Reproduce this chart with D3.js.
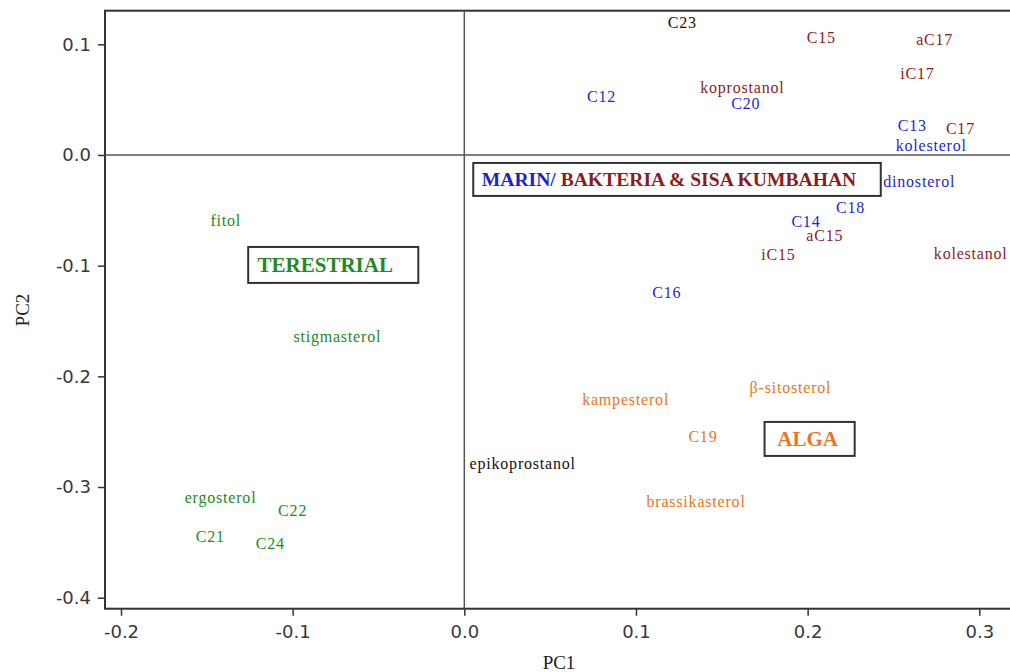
<!DOCTYPE html>
<html>
  <head>
    <meta charset="utf-8">
    <title>PCA</title>
    <style>
      body { margin: 0; background: #fff; }
      svg { display: block; }
      .tick text { font-family: "DejaVu Sans", sans-serif; font-size: 18px; fill: #383838; }
      .tick line { stroke: #333; stroke-width: 1.5; }
      .lbl { font-family: "Liberation Serif", "Times New Roman", serif; font-size: 16px; letter-spacing: 0.8px; }
      .box text { font-family: "Liberation Serif", serif; font-weight: bold; }
    </style>
    <script src="https://cdn.jsdelivr.net/npm/d3@7"></script>
  </head>
  <body>
    <svg id="chart" width="1010" height="672"></svg>
    <script>
      // label names and their PC1 / PC2 scores
      var names = ["C23", "C15", "aC17", "iC17", "koprostanol", "C20", "C12", "C13", "C17", "kolesterol",
                   "dinosterol", "C18", "C14", "aC15", "iC15", "kolestanol", "C16",
                   "fitol", "stigmasterol", "ergosterol", "C22", "C21", "C24", "epikoprostanol",
                   "kampesterol", "β-sitosterol", "C19", "brassikasterol"];
      var pc1 = [0.127, 0.208, 0.274, 0.264, 0.162, 0.164, 0.080, 0.261, 0.289, 0.272,
                 0.265, 0.225, 0.199, 0.210, 0.183, 0.295, 0.118,
                 -0.139, -0.074, -0.142, -0.100, -0.148, -0.113, 0.034,
                 0.094, 0.190, 0.139, 0.135];
      var pc2 = [0.120, 0.106, 0.104, 0.074, 0.061, 0.047, 0.053, 0.027, 0.024, 0.009,
                 -0.024, -0.047, -0.060, -0.073, -0.090, -0.089, -0.124,
                 -0.059, -0.164, -0.309, -0.321, -0.345, -0.351, -0.279,
                 -0.221, -0.210, -0.254, -0.313];
      var groups = ["other", "bakteria", "bakteria", "bakteria", "bakteria", "marin", "marin", "marin", "bakteria", "marin",
                    "marin", "marin", "marin", "bakteria", "bakteria", "bakteria", "marin",
                    "terestrial", "terestrial", "terestrial", "terestrial", "terestrial", "terestrial", "other",
                    "alga", "alga", "alga", "alga"];

      // boxed group captions: extents in PC units
      var boxNames = ["TERESTRIAL", "MARIN/ BAKTERIA & SISA KUMBAHAN", "ALGA"];
      var boxX0 = [-0.1259, 0.0052, 0.1749];
      var boxX1 = [-0.0268, 0.2426, 0.2274];
      var boxY0 = [-0.0831, -0.0072, -0.2412];
      var boxY1 = [-0.1156, -0.0370, -0.2719];

      var xTicks = [-0.2, -0.1, 0.0, 0.1, 0.2, 0.3];
      var yTicks = [0.1, 0.0, -0.1, -0.2, -0.3, -0.4];

      var colors = {
        terestrial: "#238a23",
        marin: "#1f1fd2",
        bakteria: "#8b1c1c",
        alga: "#eb7620",
        other: "#111"
      };

      var svg = d3.select("#chart");
      var plotL = 105, plotR = 1014, plotT = 10.7, plotB = 608.7;

      var x = d3.scaleLinear().domain([-0.2, 0.3]).range([121, 979.3]);
      var y = d3.scaleLinear().domain([0.1, -0.4]).range([44.3, 597.7]);

      // frame
      svg.append("rect")
         .attr("x", plotL).attr("y", plotT)
         .attr("width", plotR - plotL).attr("height", plotB - plotT)
         .attr("fill", "none").attr("stroke", "#333").attr("stroke-width", 2);

      // zero lines
      svg.append("line")
         .attr("x1", x(0)).attr("x2", x(0)).attr("y1", plotT).attr("y2", plotB)
         .attr("stroke", "#555").attr("stroke-width", 1.5);
      svg.append("line")
         .attr("x1", plotL).attr("x2", plotR).attr("y1", y(0)).attr("y2", y(0))
         .attr("stroke", "#555").attr("stroke-width", 1.5);

      var fmt = function(d) { return d.toFixed(1); };

      svg.append("g")
         .attr("transform", "translate(0," + plotB + ")")
         .call(d3.axisBottom(x).tickValues(xTicks).tickFormat(fmt).tickSize(7).tickPadding(10))
         .call(function(g) { g.select(".domain").remove(); });

      svg.append("g")
         .attr("transform", "translate(" + plotL + ",0)")
         .call(d3.axisLeft(y).tickValues(yTicks).tickFormat(fmt).tickSize(7).tickPadding(7))
         .call(function(g) { g.select(".domain").remove(); });

      // axis titles
      svg.append("text")
         .attr("x", 559).attr("y", 669)
         .attr("text-anchor", "middle")
         .style("font-family", "Liberation Serif, serif").style("font-size", "19px").style("fill", "#222")
         .text("PC1");
      svg.append("text")
         .attr("transform", "translate(29,310) rotate(-90)")
         .attr("text-anchor", "middle")
         .style("font-family", "Liberation Serif, serif").style("font-size", "19px").style("fill", "#222")
         .text("PC2");

      // point labels
      svg.selectAll(".lbl")
         .data(names)
         .enter()
         .append("text")
         .attr("class", "lbl")
         .attr("x", function(d, i) { return x(pc1[i]); })
         .attr("y", function(d, i) { return y(pc2[i]); })
         .attr("dy", "0.35em")
         .attr("text-anchor", "middle")
         .attr("fill", function(d, i) { return colors[groups[i]]; })
         .text(function(d) { return d; });

      // boxes
      var boxes = svg.selectAll(".box")
         .data(boxNames)
         .enter()
         .append("g")
         .attr("class", "box");

      boxes.append("rect")
           .attr("x", function(d, i) { return x(boxX0[i]); })
           .attr("y", function(d, i) { return y(boxY0[i]); })
           .attr("width", function(d, i) { return x(boxX1[i]) - x(boxX0[i]); })
           .attr("height", function(d, i) { return y(boxY1[i]) - y(boxY0[i]); })
           .attr("fill", "#fff").attr("stroke", "#333").attr("stroke-width", 2);

      var boxText = boxes.append("text")
           .attr("x", function(d, i) { return (x(boxX0[i]) + x(boxX1[i])) / 2 - (i == 2 ? 2 : 8); })
           .attr("y", function(d, i) { return (y(boxY0[i]) + y(boxY1[i])) / 2; })
           .attr("dy", "0.35em")
           .attr("text-anchor", "middle")
           .style("font-size", function(d, i) { return i == 1 ? "19.6px" : "21px"; });

      boxText.each(function(d, i) {
        var t = d3.select(this);
        if (i == 0) {
          t.attr("fill", colors.terestrial).text(d);
        } else if (i == 2) {
          t.attr("fill", colors.alga).text(d);
        } else {
          t.append("tspan").attr("fill", colors.marin).text("MARIN/");
          t.append("tspan").attr("fill", colors.bakteria).text(" BAKTERIA & SISA KUMBAHAN");
        }
      });
    </script>
  </body>
</html>
